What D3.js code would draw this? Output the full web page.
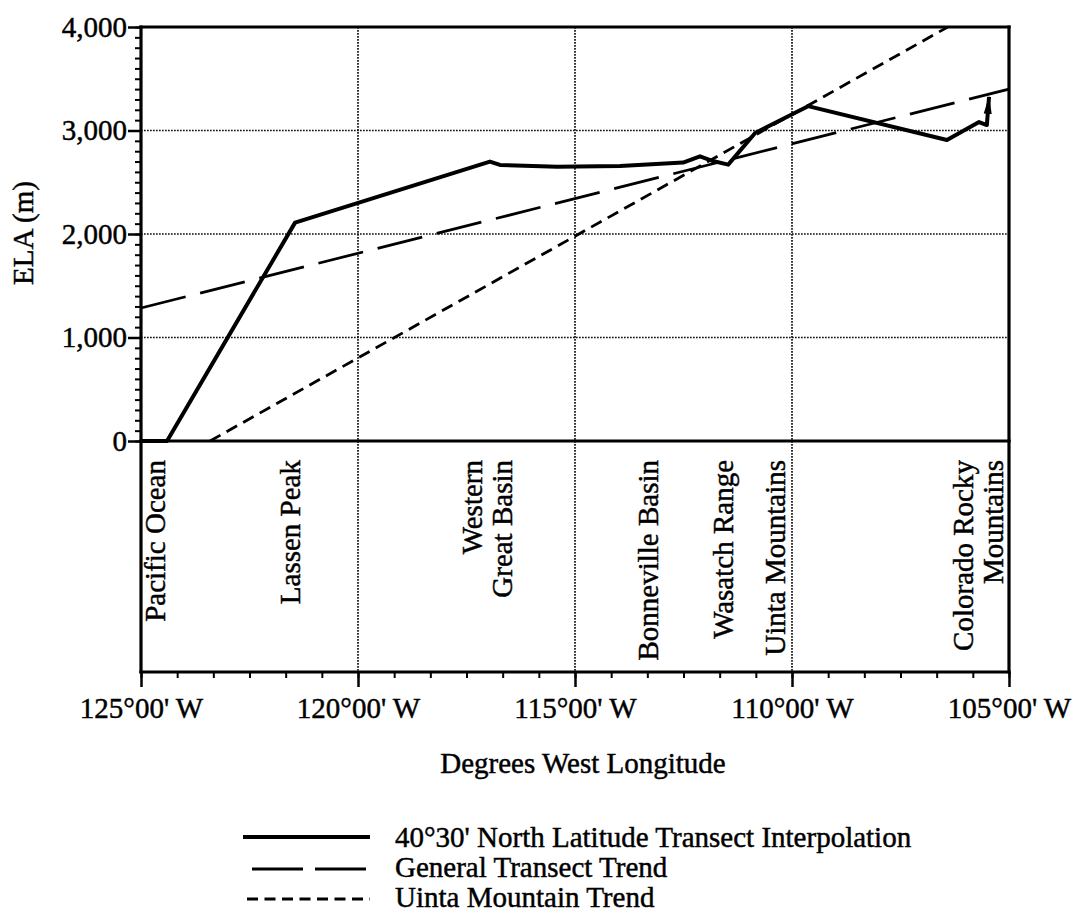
<!DOCTYPE html>
<html>
<head>
<meta charset="utf-8">
<script src="https://cdn.jsdelivr.net/npm/d3@7"></script>
<style>
  body { margin: 0; background: #fff; }
  text { font-family: "Liberation Serif", "Times New Roman", serif; font-size: 29px; fill: #000; stroke: #000; stroke-width: 0.45px; }
</style>
</head>
<body>
<script>
// Data (longitude in degrees W, ELA in metres)
var transect = [
  [125, 0], [124.40, 0], [121.45, 2110], [116.96, 2700], [116.73, 2667],
  [115.41, 2650], [113.96, 2657], [112.51, 2690], [112.12, 2750], [111.82, 2705],
  [111.47, 2670], [110.85, 2976], [109.63, 3235], [106.43, 2908], [105.69, 3082],
  [105.51, 3053], [105.46, 3324]
];
var generalTrend = [[125, 1285], [105, 3400]];
var uintaTrend = [[123.41, 0], [106.41, 4000]];

var yTicks = [0, 1000, 2000, 3000, 4000];
var xTicks = [125, 120, 115, 110, 105];
var xTickLabels = ["125°00' W", "120°00' W", "115°00' W", "110°00' W", "105°00' W"];

var places = [
  { lines: ['Pacific Ocean'], lon: 124.65 },
  { lines: ['Lassen Peak'], lon: 121.54 },
  { lines: ['Western', 'Great Basin'], lon: 117.0 },
  { lines: ['Bonneville Basin'], lon: 113.29 },
  { lines: ['Wasatch Range'], lon: 111.57 },
  { lines: ['Uinta Mountains'], lon: 110.37 },
  { lines: ['Colorado Rocky', 'Mountains'], lon: 105.69 }
];

var legendLabels = ["40°30' North Latitude Transect Interpolation", 'General Transect Trend', 'Uinta Mountain Trend'];

// Layout
var boxBottom = 672;
var svg = d3.select('body').append('svg').attr('width', 1081).attr('height', 913);

var x = d3.scaleLinear().domain([125, 105]).range([141, 1009]);
var y = d3.scaleLinear().domain([0, 4000]).range([441, 27]);

// Dotted grid
svg.append('g')
  .selectAll('line')
  .data([1000, 2000, 3000])
  .enter()
  .append('line')
  .attr('x1', x(125)).attr('x2', x(105))
  .attr('y1', (d) => y(d)).attr('y2', (d) => y(d))
  .attr('stroke', '#111').attr('stroke-width', 1.7).attr('stroke-dasharray', '1.7,1.3');

svg.append('g')
  .selectAll('line')
  .data([120, 115, 110])
  .enter()
  .append('line')
  .attr('x1', (d) => x(d)).attr('x2', (d) => x(d))
  .attr('y1', y(4000)).attr('y2', boxBottom)
  .attr('stroke', '#111').attr('stroke-width', 1.7).attr('stroke-dasharray', '1.7,1.3');

// Y axis, minor then major ticks
svg.append('g')
  .attr('transform', 'translate(' + x(125) + ',0)')
  .call(d3.axisLeft(y).tickValues(d3.range(0, 4001, 100)).tickSize(6).tickFormat(''))
  .call((g) => g.select('.domain').remove())
  .selectAll('line').attr('stroke-width', 2);

var yAxis = svg.append('g')
  .attr('transform', 'translate(' + x(125) + ',0)')
  .call(d3.axisLeft(y).tickValues(yTicks).tickSize(13).tickPadding(1).tickFormat(d3.format(',')));
yAxis.select('.domain').remove();
yAxis.selectAll('line').attr('stroke-width', 2.5);
yAxis.selectAll('text').attr('font-size', null).attr('font-family', null);

// X axis at the bottom of the label box
svg.append('g')
  .attr('transform', 'translate(0,' + boxBottom + ')')
  .call(d3.axisBottom(x).tickValues(d3.range(125, 104.99, -5 / 6)).tickSize(6).tickFormat(''))
  .call((g) => g.select('.domain').remove())
  .selectAll('line').attr('stroke-width', 2);

var xAxis = svg.append('g')
  .attr('transform', 'translate(0,' + boxBottom + ')')
  .call(d3.axisBottom(x).tickValues(xTicks).tickSize(15).tickPadding(10).tickFormat((d, i) => xTickLabels[i]));
xAxis.select('.domain').remove();
xAxis.selectAll('line').attr('stroke-width', 2.5);
xAxis.selectAll('text').attr('font-size', null).attr('font-family', null);

// Frame
var frame = [
  [x(125), y(4000), x(105), y(4000)],
  [x(125), y(0), x(105), y(0)],
  [x(125), boxBottom, x(105), boxBottom],
  [x(125), y(4000), x(125), boxBottom],
  [x(105), y(4000), x(105), boxBottom]
];
svg.append('g')
  .selectAll('line')
  .data(frame)
  .enter()
  .append('line')
  .attr('x1', (d) => d[0]).attr('y1', (d) => d[1])
  .attr('x2', (d) => d[2]).attr('y2', (d) => d[3])
  .attr('stroke', '#000').attr('stroke-width', 3.2).attr('stroke-linecap', 'square');

// Arrow head for the transect line
svg.append('defs').append('marker')
  .attr('id', 'arrow')
  .attr('markerUnits', 'userSpaceOnUse')
  .attr('viewBox', '0 0 18 10')
  .attr('refX', 17).attr('refY', 5)
  .attr('markerWidth', 18).attr('markerHeight', 10)
  .attr('orient', 'auto')
  .append('path')
  .attr('d', 'M0,1 L18,5 L0,9 Z')
  .attr('fill', '#000');

var line = d3.line().x((d) => x(d[0])).y((d) => y(d[1]));

svg.append('path')
  .datum(uintaTrend)
  .attr('d', line)
  .attr('fill', 'none').attr('stroke', '#000').attr('stroke-width', 2.8)
  .attr('stroke-dasharray', '12,7');

svg.append('path')
  .datum(generalTrend)
  .attr('d', line)
  .attr('fill', 'none').attr('stroke', '#000').attr('stroke-width', 2.8)
  .attr('stroke-dasharray', '46,15');

svg.append('path')
  .datum(transect)
  .attr('d', line)
  .attr('fill', 'none').attr('stroke', '#000').attr('stroke-width', 4)
  .attr('stroke-linejoin', 'round')
  .attr('marker-end', 'url(#arrow)');

// Place names in the box below the plot
var labelTop = 460;
svg.append('g')
  .selectAll('text')
  .data(places)
  .enter()
  .append('text')
  .attr('text-anchor', 'end')
  .attr('transform', (d) => 'translate(' + (x(d.lon) + 9 - (d.lines.length - 1) * 15) + ',' + labelTop + ') rotate(-90)')
  .selectAll('tspan')
  .data((d) => d.lines)
  .enter()
  .append('tspan')
  .attr('x', 0)
  .attr('dy', (d, i) => (i === 0 ? 0 : 30))
  .text((d) => d);

// Axis titles
svg.append('text')
  .attr('text-anchor', 'middle')
  .attr('transform', 'translate(33,233) rotate(-90)')
  .text('ELA (m)');

svg.append('text')
  .attr('x', 583).attr('y', 773)
  .attr('text-anchor', 'middle')
  .text('Degrees West Longitude');

// Legend
var legendStyles = [
  { width: 4, dash: null, x1: 243 },
  { width: 3.2, dash: '51,12', x1: 252 },
  { width: 2.8, dash: '11,6.5', x1: 247 }
];
var legend = svg.append('g')
  .selectAll('g')
  .data(legendLabels)
  .enter()
  .append('g')
  .attr('transform', (d, i) => 'translate(0,' + (847 + i * 30) + ')');

legend.append('line')
  .attr('x1', (d, i) => legendStyles[i].x1).attr('x2', 370)
  .attr('y1', (d, i) => (i === 0 ? -10 : -8)).attr('y2', (d, i) => (i === 0 ? -10 : -8))
  .attr('stroke', '#000')
  .attr('stroke-width', (d, i) => legendStyles[i].width)
  .attr('stroke-dasharray', (d, i) => legendStyles[i].dash);

legend.append('text')
  .attr('x', 395)
  .text((d) => d);
</script>
</body>
</html>
